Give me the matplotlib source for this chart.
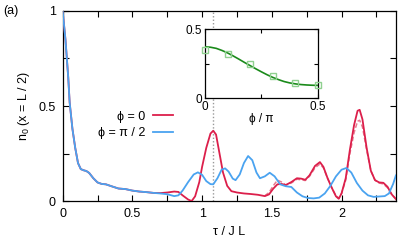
import matplotlib
matplotlib.use("Agg")
import matplotlib.pyplot as plt
from matplotlib.ticker import MultipleLocator

plt.rcParams['font.family'] = ['Liberation Sans', 'DejaVu Sans']
plt.rcParams['mathtext.fontset'] = 'custom'
plt.rcParams['mathtext.rm'] = 'Liberation Sans'
plt.rcParams['mathtext.it'] = 'Liberation Sans'
plt.rcParams['font.size'] = 9

# shared early decay (both phases)
tau_early = [0.0, 0.02, 0.04, 0.05, 0.07, 0.09, 0.11, 0.13, 0.15, 0.17, 0.19,
             0.22, 0.25, 0.28, 0.31, 0.35, 0.40, 0.45, 0.50, 0.55, 0.60, 0.65]
n_early = [1.0, 0.85, 0.65, 0.52, 0.38, 0.28, 0.20, 0.168, 0.162, 0.158, 0.148,
           0.12, 0.098, 0.09, 0.088, 0.078, 0.066, 0.063, 0.055, 0.05, 0.047, 0.043]

# phi = pi/2 (blue)
tau_blue = tau_early + [0.70, 0.75, 0.80, 0.83, 0.86, 0.90, 0.94, 0.97, 1.00, 1.03,
                        1.06, 1.08, 1.11, 1.14, 1.165, 1.19, 1.22, 1.24, 1.27, 1.30,
                        1.33, 1.36, 1.39, 1.415, 1.45, 1.485, 1.52, 1.56, 1.60, 1.64,
                        1.68, 1.72, 1.76, 1.80, 1.84, 1.88, 1.92, 1.96, 2.00, 2.035,
                        2.07, 2.11, 2.15, 2.19, 2.23, 2.27, 2.31, 2.34, 2.37, 2.39]
n_blue = n_early + [0.04, 0.036, 0.026, 0.03, 0.055, 0.10, 0.14, 0.151, 0.138, 0.105,
                    0.089, 0.088, 0.12, 0.165, 0.172, 0.155, 0.118, 0.11, 0.14, 0.20,
                    0.237, 0.215, 0.15, 0.12, 0.13, 0.149, 0.13, 0.088, 0.078, 0.074,
                    0.045, 0.025, 0.016, 0.014, 0.018, 0.04, 0.08, 0.13, 0.165, 0.174,
                    0.15, 0.095, 0.055, 0.03, 0.022, 0.024, 0.026, 0.04, 0.09, 0.135]

# phi = 0 (red)
tau_red = tau_early + [0.70, 0.75, 0.80, 0.83, 0.86, 0.90, 0.925, 0.95, 0.98, 1.00,
                       1.03, 1.06, 1.08, 1.10, 1.12, 1.15, 1.18, 1.21, 1.25, 1.30,
                       1.35, 1.40, 1.45, 1.48, 1.51, 1.54, 1.57, 1.60, 1.64, 1.68,
                       1.71, 1.74, 1.77, 1.81, 1.845, 1.87, 1.90, 1.93, 1.96, 1.98,
                       2.00, 2.03, 2.06, 2.09, 2.115, 2.13, 2.15, 2.18, 2.21, 2.24,
                       2.27, 2.30, 2.33, 2.36, 2.39]
n_red = n_early + [0.042, 0.045, 0.05, 0.048, 0.03, 0.008, 0.0, 0.025, 0.10, 0.18,
                   0.28, 0.355, 0.37, 0.35, 0.27, 0.15, 0.08, 0.052, 0.045, 0.04,
                   0.037, 0.033, 0.026, 0.035, 0.065, 0.088, 0.09, 0.084, 0.10, 0.12,
                   0.118, 0.112, 0.135, 0.185, 0.205, 0.18, 0.12, 0.07, 0.025, 0.012,
                   0.04, 0.12, 0.27, 0.40, 0.475, 0.48, 0.43, 0.28, 0.16, 0.11,
                   0.098, 0.096, 0.075, 0.035, 0.01]

# phi = 0, second (dashed) curve, late times
tau_red_d = [1.45, 1.48, 1.51, 1.54, 1.57, 1.60, 1.64, 1.68, 1.71, 1.74, 1.77, 1.81,
             1.845, 1.87, 1.90, 1.93, 1.96, 1.98, 2.00, 2.03, 2.06, 2.09, 2.115,
             2.13, 2.15, 2.18, 2.21, 2.24, 2.27, 2.30, 2.33, 2.36, 2.39]
n_red_d = [0.028, 0.045, 0.08, 0.11, 0.10, 0.085, 0.095, 0.115, 0.112, 0.108, 0.13,
           0.175, 0.195, 0.175, 0.12, 0.07, 0.028, 0.015, 0.04, 0.11, 0.25, 0.36, 0.42,
           0.425, 0.39, 0.27, 0.16, 0.11, 0.095, 0.09, 0.07, 0.035, 0.012]

tau_mark = 1.075

# inset: n0 at tau_mark vs phi
phi_fit = [0.0, 0.025, 0.05, 0.075, 0.1, 0.125, 0.15, 0.175, 0.2, 0.225, 0.25,
           0.275, 0.3, 0.325, 0.35, 0.375, 0.4, 0.425, 0.45, 0.475, 0.5]
n_fit = [0.372, 0.368, 0.36, 0.345, 0.327, 0.305, 0.282, 0.258, 0.235, 0.212, 0.19,
         0.169, 0.15, 0.134, 0.12, 0.11, 0.103, 0.098, 0.095, 0.093, 0.092]
phi_pts = [0.0, 0.1, 0.2, 0.3, 0.4, 0.5]
n_pts = [0.35, 0.32, 0.245, 0.162, 0.106, 0.094]

red = '#dc1f4b'
red_light = '#e8798f'
blue = '#4aa3f0'
green = '#1a8a1a'

fig = plt.figure(figsize=(4.15, 2.44), dpi=100)
ax = fig.add_axes([0.151, 0.176, 0.803, 0.779])

ax.axvline(tau_mark, color='#999999', ls=(0, (1, 1.5)), lw=1, zorder=1)
ax.plot(tau_red_d, n_red_d, color=red_light, lw=1.1, ls=(0, (3, 1.5)), zorder=2)
ax.plot(tau_red, n_red, color=red, lw=1.3, zorder=3, label='ϕ = 0')
ax.plot(tau_blue, n_blue, color=blue, lw=1.3, zorder=4, label='ϕ = π / 2')

ax.set_xlim(0, 2.39)
ax.set_ylim(0, 1)
ax.xaxis.set_minor_locator(MultipleLocator(0.25))
ax.yaxis.set_minor_locator(MultipleLocator(0.25))
ax.set_yticks([0, 0.5, 1])
ax.set_yticklabels(['0', '0.5', '1'])
ax.set_xticks([0, 0.5, 1, 1.5, 2])
ax.set_xticklabels(['0', '0.5', '1', '1.5', '2'])
ax.tick_params(which='both', direction='in', top=True, right=True, labelsize=9,
               pad=5, length=4, width=0.8)
for s in ax.spines.values():
    s.set_linewidth(0.9)
ax.set_xlabel('τ / J L', fontsize=9, labelpad=4)
ax.set_ylabel(r'n$_\mathrm{0}$ (x = L / 2)', fontsize=9, labelpad=5)

leg = ax.legend(loc='center right', bbox_to_anchor=(0.33, 0.4), frameon=False,
                markerfirst=False, fontsize=9, handlelength=1.6, handletextpad=0.6,
                labelspacing=0.35, borderpad=0, borderaxespad=0)

fig.text(0.008, 0.955, '(a)', fontsize=9, va='center')

ins = fig.add_axes([0.494, 0.598, 0.272, 0.283])
ins.set_facecolor('white')
ins.set_zorder(5)
ins.plot(phi_fit, n_fit, color=green, lw=1.2, zorder=3)
ins.plot(phi_pts, n_pts, ls='none', marker='s', ms=5, mfc='none', mec='#8fd08f',
         mew=1.0, zorder=4, clip_on=False)
ins.set_xlim(0, 0.5)
ins.set_ylim(0, 0.5)
ins.set_xticks([0, 0.25, 0.5])
ins.set_xticklabels(['0', '', '0.5'])
ins.set_yticks([0, 0.25, 0.5])
ins.set_yticklabels(['0', '', '0.5'])
ins.tick_params(direction='in', top=True, right=True, length=3, labelsize=8.5,
                pad=2, width=0.8)
for s in ins.spines.values():
    s.set_linewidth(0.9)
ins.set_xlabel('ϕ / π', fontsize=8.5, labelpad=0)

fig.savefig('out.png', dpi=100)
